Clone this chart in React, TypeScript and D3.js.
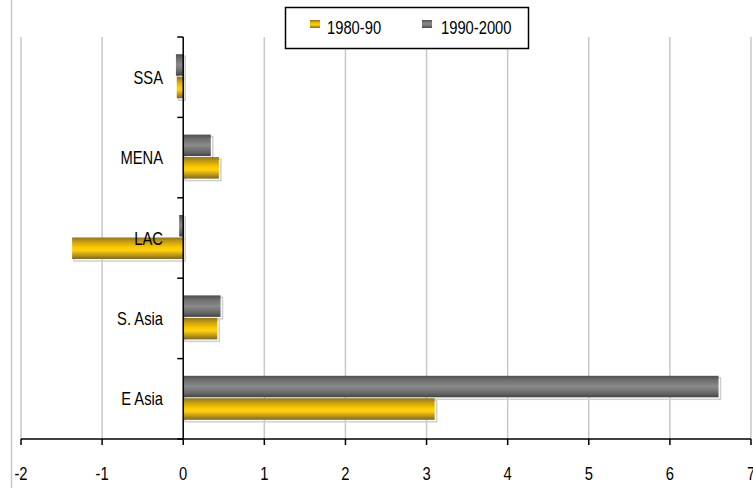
import React from "react";
import * as d3 from "d3";

const categories = ["SSA", "MENA", "LAC", "S. Asia", "E Asia"];
const series1980 = [-0.08, 0.44, -1.37, 0.42, 3.1];
const series1990 = [-0.09, 0.34, -0.05, 0.46, 6.6];
const seriesNames = ["1980-90", "1990-2000"];
const xTicks = [-2, -1, 0, 1, 2, 3, 4, 5, 6, 7];

const W = 753;
const H = 488;
const FONT = "'Liberation Sans', Arial, sans-serif";
const SX = 0.82;

function T(props: { x: number; y: number; anchor?: string; children: React.ReactNode }) {
  return (
    <text
      transform={`translate(${props.x},${props.y}) scale(${SX},1)`}
      textAnchor={props.anchor || "start"}
      fontFamily={FONT}
      fontSize={18}
      fill="#000"
    >
      {props.children}
    </text>
  );
}

export default function App() {
  const x = d3.scaleLinear().domain([-2, 7]).range([21, 751]);
  const y = d3.scaleBand<string>().domain(categories).range([37, 439]);
  const inner = d3.scaleBand<string>().domain(["g", "y"]).range([0, 44]);
  const barH = 21.5;
  const x0 = x(0);

  const bar = (v: number, top: number, fill: string, key: string) => {
    const left = Math.min(x(v), x0);
    const w = Math.abs(x(v) - x0);
    return (
      <g key={key}>
        <rect x={left + 2} y={top + 2} width={w} height={barH} fill="none" stroke="#cfcfcf" strokeWidth={1.5} />
        <rect x={left} y={top} width={w} height={barH} fill={fill} />
      </g>
    );
  };

  return (
    <div style={{ position: "absolute", left: 0, top: 0 }}>
      <svg width={W} height={H} style={{ display: "block" }}>
        <defs>
          <linearGradient id="gy" x1="0" y1="0" x2="0" y2="1">
            <stop offset="0" stopColor="#8c7424" />
            <stop offset="0.2" stopColor="#c89e10" />
            <stop offset="0.45" stopColor="#f8c800" />
            <stop offset="0.6" stopColor="#ffd010" />
            <stop offset="0.8" stopColor="#c49c14" />
            <stop offset="1" stopColor="#7c6828" />
          </linearGradient>
          <linearGradient id="gg" x1="0" y1="0" x2="0" y2="1">
            <stop offset="0" stopColor="#4e4e4e" />
            <stop offset="0.2" stopColor="#6e6e6e" />
            <stop offset="0.5" stopColor="#8a8a8a" />
            <stop offset="0.8" stopColor="#686868" />
            <stop offset="1" stopColor="#444444" />
          </linearGradient>
        </defs>
        <rect x={0} y={0} width={W} height={H} fill="#fff" />
        <line x1={11.5} x2={11.5} y1={0} y2={H} stroke="#c8c8c8" strokeWidth={1.5} />
        {xTicks.map((t) =>
          t === 0 ? null : (
            <line key={"g" + t} x1={x(t)} x2={x(t)} y1={37} y2={439} stroke="#c8c8c8" strokeWidth={1.5} />
          )
        )}
        {categories.map((c, i) => {
          const b = y(c)!;
          const top = b + (y.bandwidth() - 44) / 2 - 1;
          return (
            <g key={c}>
              {bar(series1990[i], top + inner("g")!, "url(#gg)", "a")}
              {bar(series1980[i], top + inner("y")! + 0.5, "url(#gy)", "b")}
            </g>
          );
        })}
        {categories.map((c) => (
          <T key={"l" + c} x={163} y={y(c)! + y.bandwidth() / 2 + 6.5} anchor="end">
            {c}
          </T>
        ))}
        <line x1={x0} x2={x0} y1={37} y2={439} stroke="#000" strokeWidth={1.5} />
        {[...categories.map((c) => y(c)!), 439].map((v, i) => (
          <line key={"yt" + i} x1={x0 - 6} x2={x0} y1={v} y2={v} stroke="#000" strokeWidth={1.5} />
        ))}
        <line x1={x(-2)} x2={x(7)} y1={439} y2={439} stroke="#000" strokeWidth={1.5} />
        {xTicks.map((t) => (
          <g key={"t" + t}>
            <line x1={x(t)} x2={x(t)} y1={439} y2={445} stroke="#000" strokeWidth={1.5} />
            <T x={x(t)} y={480} anchor="middle">
              {t}
            </T>
          </g>
        ))}
        <rect x={285.5} y={7.5} width={243} height={41} fill="#fff" stroke="#000" strokeWidth={1.5} />
        <rect x={310} y={20} width={10} height={8} fill="url(#gy)" />
        <T x={327} y={34}>
          {seriesNames[0]}
        </T>
        <rect x={422} y={20} width={10} height={8} fill="url(#gg)" />
        <T x={441} y={34}>
          {seriesNames[1]}
        </T>
      </svg>
    </div>
  );
}
